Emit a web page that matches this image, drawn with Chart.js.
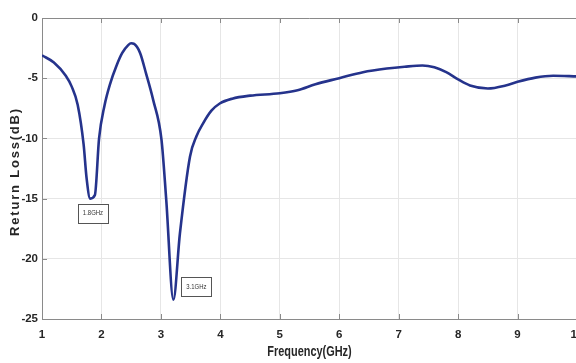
<!DOCTYPE html>
<html>
<head>
<meta charset="utf-8">
<script src="https://cdn.jsdelivr.net/npm/chart.js@4"></script>
<style>
  html, body { margin: 0; padding: 0; background: #fff; overflow: hidden; }
  #wrap { width: 600px; height: 363px; }
</style>
</head>
<body>
<div id="wrap"><canvas id="s11Chart"></canvas></div>
<script>
// Frequency (GHz) vs return loss (dB)
const freq = [1.0, 1.2, 1.4, 1.5, 1.6, 1.7, 1.75, 1.81, 1.89, 1.96, 2.05, 2.15, 2.25, 2.35, 2.45, 2.5, 2.55, 2.65, 2.75, 2.87, 3.01, 3.09, 3.21, 3.32, 3.49, 3.6, 3.71, 3.85, 3.99, 4.2, 4.5, 5.0, 5.3, 5.6, 6.0, 6.4, 6.8, 7.1, 7.4, 7.6, 7.8, 8.0, 8.2, 8.5, 8.8, 9.0, 9.3, 9.6, 10.0];
const returnLoss = [-3.1, -3.7, -4.8, -5.7, -7.2, -10.5, -13.3, -15.0, -14.7, -10.0, -7.3, -5.4, -4.0, -2.9, -2.25, -2.1, -2.15, -2.9, -4.6, -6.8, -10.1, -15.1, -23.4, -17.9, -11.5, -9.8, -8.75, -7.7, -7.1, -6.7, -6.45, -6.25, -6.0, -5.5, -5.0, -4.5, -4.2, -4.05, -3.95, -4.1, -4.5, -5.1, -5.6, -5.85, -5.6, -5.3, -4.95, -4.8, -4.85];

const xTicks = [1, 2, 3, 4, 5, 6, 7, 8, 9, 10];
const yTicks = [0, -5, -10, -15, -20, -25];
const xTitle = 'Frequency(GHz)';
const yTitle = 'Return Loss(dB)';

// marker labels and where their boxes sit (data coords of box centre)
const markerText = ['1.8GHz', '3.1GHz'];
const markerX = [1.857, 3.597];
const markerY = [-16.24, -22.37];

const tickFont = { family: "'Liberation Sans', Arial", size: 11.5, weight: 'bold' };

// MATLAB style box: top line, inward ticks, axis titles, text annotations
const matlabBox = {
    id: 'matlabBox',
    afterDatasetsDraw(chart) {
        const ctx = chart.ctx;
        const xs = chart.scales.x, ys = chart.scales.y;
        const a = chart.chartArea;
        ctx.save();
        ctx.strokeStyle = '#8a8a8a';
        ctx.lineWidth = 1;
        ctx.beginPath();
        ctx.moveTo(a.left, a.top + 0.5);
        ctx.lineTo(a.right, a.top + 0.5);
        xTicks.forEach(v => {
            const px = Math.round(xs.getPixelForValue(v)) + 0.5;
            ctx.moveTo(px, a.top);
            ctx.lineTo(px, a.top + 5);
            ctx.moveTo(px, a.bottom);
            ctx.lineTo(px, a.bottom - 5);
        });
        yTicks.forEach(v => {
            const py = Math.round(ys.getPixelForValue(v)) + 0.5;
            ctx.moveTo(a.left, py);
            ctx.lineTo(a.left + 5, py);
        });
        ctx.stroke();

        ctx.fillStyle = '#262626';
        ctx.textAlign = 'center';
        ctx.textBaseline = 'middle';

        // y axis title, spaced out like the original
        ctx.save();
        ctx.translate(15, (a.top + a.bottom) / 2 + 3);
        ctx.rotate(-Math.PI / 2);
        ctx.font = "bold 13px 'Liberation Sans', Arial";
        ctx.letterSpacing = '1.8px';
        ctx.fillText(yTitle, 0, 0);
        ctx.restore();

        // x axis title, condensed
        ctx.save();
        ctx.translate((a.left + a.right) / 2, 352);
        ctx.scale(0.78, 1);
        ctx.font = "bold 14px 'Liberation Sans', Arial";
        ctx.fillText(xTitle, 0, 0);
        ctx.restore();

        ctx.font = "7px 'Liberation Sans', Arial";
        markerText.forEach((t, i) => {
            const cx = xs.getPixelForValue(markerX[i]);
            const cy = ys.getPixelForValue(markerY[i]);
            ctx.fillStyle = '#fff';
            ctx.fillRect(cx - 15, cy - 10, 30, 20);
            ctx.strokeStyle = '#555';
            ctx.strokeRect(Math.round(cx - 15) + 0.5, Math.round(cy - 10) + 0.5, 30, 19);
            ctx.fillStyle = '#333';
            ctx.save();
            ctx.translate(cx, cy);
            ctx.scale(0.85, 1);
            ctx.fillText(t, 0, 0);
            ctx.restore();
        });
        ctx.restore();
    }
};

const ctx = document.getElementById('s11Chart').getContext('2d');
new Chart(ctx, {
    type: 'line',
    data: {
        datasets: [{
            data: freq.map((f, i) => ({ x: f, y: returnLoss[i] })),
            borderColor: '#25338c',
            borderWidth: 2.6,
            pointRadius: 0,
            cubicInterpolationMode: 'monotone',
            fill: false
        }]
    },
    options: {
        responsive: true,
        maintainAspectRatio: false,
        animation: false,
        layout: { padding: { top: 18, right: 23, left: 0, bottom: 0 } },
        plugins: { legend: { display: false }, tooltip: { enabled: false } },
        scales: {
            x: {
                type: 'linear',
                min: 1, max: 10,
                afterBuildTicks: s => { s.ticks = xTicks.map(v => ({ value: v })); },
                afterFit: s => { s.height = 44; },
                grid: { color: '#e6e6e6', drawTicks: false },
                border: { color: '#8a8a8a' },
                ticks: { font: tickFont, color: '#262626', padding: 9, maxRotation: 0 }
            },
            y: {
                min: -25, max: 0,
                afterBuildTicks: s => { s.ticks = yTicks.map(v => ({ value: v })); },
                afterFit: s => { s.width = 42; },
                grid: { color: '#e6e6e6', drawTicks: false },
                border: { color: '#8a8a8a' },
                ticks: { font: tickFont, color: '#262626', padding: 4 }
            }
        }
    },
    plugins: [matlabBox]
});
</script>
</body>
</html>
